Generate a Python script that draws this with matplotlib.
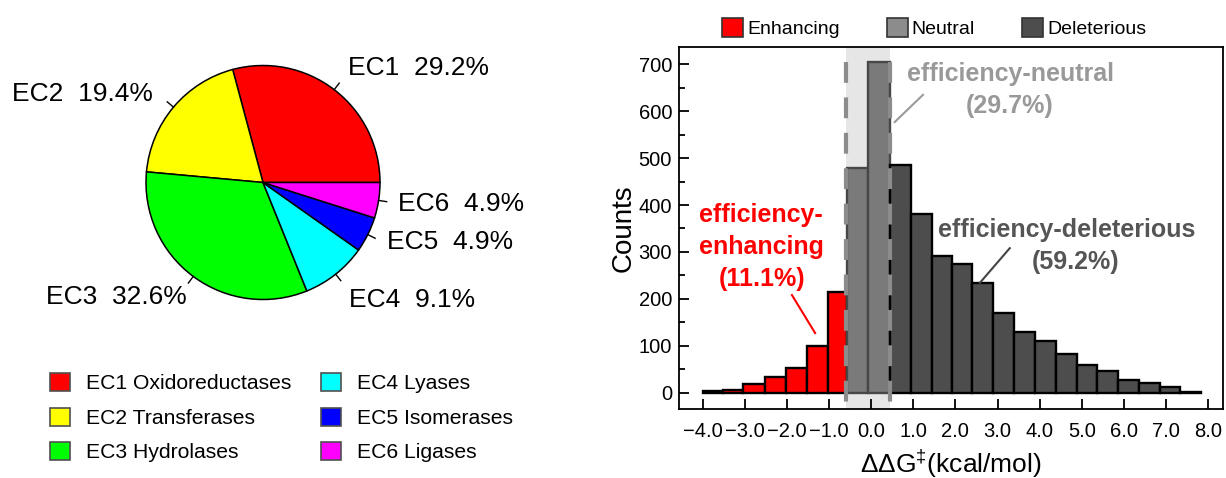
import numpy as np
import matplotlib
matplotlib.use('Agg')
import matplotlib.pyplot as plt
from matplotlib.patches import Patch
from matplotlib.ticker import MultipleLocator

plt.rcParams['font.family'] = ['Liberation Sans', 'DejaVu Sans']
plt.rcParams['mathtext.fontset'] = 'custom'
plt.rcParams['mathtext.rm'] = 'Liberation Sans'
plt.rcParams['mathtext.it'] = 'Liberation Sans:italic'
plt.rcParams['mathtext.bf'] = 'Liberation Sans:bold'

# pie data (EC classes)
ec_labels = ['EC1', 'EC2', 'EC3', 'EC4', 'EC5', 'EC6']
ec_names = ['EC1 Oxidoreductases', 'EC2 Transferases', 'EC3 Hydrolases',
            'EC4 Lyases', 'EC5 Isomerases', 'EC6 Ligases']
ec_pct = [29.2, 19.4, 32.6, 9.1, 4.9, 4.9]
ec_colors = ['#ff0000', '#ffff00', '#00ff00', '#00ffff', '#0000ff', '#ff00ff']

# histogram of ddG (kcal/mol)
bin_edges = [-4.00, -3.52, -3.03, -2.52, -2.02, -1.53, -1.03, -0.58, -0.07,
             0.45, 0.94, 1.44, 1.92, 2.40, 2.90, 3.39, 3.89, 4.39, 4.88,
             5.37, 5.87, 6.36, 6.86, 7.33, 7.83]
counts = [3, 6, 18, 34, 53, 100, 214, 480, 704, 485, 381, 291, 275, 233,
          170, 129, 109, 82, 58, 45, 27, 20, 11, 2]
n_enh = 7
n_neu = 2
groups = ['Enhancing', 'Neutral', 'Deleterious']
group_pct = [11.1, 29.7, 59.2]
band = [-0.60, 0.44]
xtick_vals = [-4, -3, -2, -1, 0, 1, 2, 3, 4, 5, 6, 7, 8]
xtick_labels = ['\u22124.0', '\u22123.0', '\u22122.0', '\u22121.0', '0.0', '1.0', '2.0',
                '3.0', '4.0', '5.0', '6.0', '7.0', '8.0']
ytick_vals = [0, 100, 200, 300, 400, 500, 600, 700]

# pixel offsets of the pie labels from the end of their tick marks
label_off = [(9, 15), (-14, 8), (-2, -14), (8, -19), (12, -4), (11, -2)]

W, H = 1226, 478
fig = plt.figure(figsize=(W / 100, H / 100), dpi=100)

# ---- pie
ax1 = fig.add_axes([146 / W, 1 - 299.5 / H, 234 / W, 234 / H])
wedges, _ = ax1.pie(ec_pct, colors=ec_colors, startangle=0, counterclock=True,
                    wedgeprops=dict(edgecolor='black', linewidth=1.1))
for w in wedges:
    w.set_clip_on(False)
ax1.set_xlim(-1, 1)
ax1.set_ylim(-1, 1)
ax1.set_aspect('equal')

for w, lab, p, off in zip(wedges, ec_labels, ec_pct, label_off):
    mid = np.deg2rad((w.theta1 + w.theta2) / 2)
    c, s = np.cos(mid), np.sin(mid)
    ax1.plot([c, 1.07 * c], [s, 1.07 * s], color='black', lw=1, clip_on=False)
    ax1.annotate(f'{lab}  {p}%', xy=(1.07 * c, 1.07 * s), xytext=off,
                 textcoords='offset pixels', ha='left' if c > 0 else 'right',
                 va='center', fontsize=19, annotation_clip=False)

pie_handles = [Patch(facecolor=col, edgecolor='#505050', linewidth=1.2) for col in ec_colors]
fig.legend(pie_handles, ec_names, loc='upper left', bbox_to_anchor=(50 / W, 1 - 373 / H),
           ncol=2, frameon=False, fontsize=15.2, handlelength=0.95, handleheight=0.95,
           handletextpad=0.75, labelspacing=0.67, columnspacing=1.4,
           borderpad=0, borderaxespad=0)

# ---- histogram
ax2 = fig.add_axes([679 / W, 1 - 409 / H, 544 / W, 362 / H])
lefts = bin_edges[:-1]
widths = np.diff(bin_edges)
n_del = len(counts) - n_enh - n_neu
faces = ['#ff0000'] * n_enh + ['#7a7a7a'] * n_neu + ['#4d4d4d'] * n_del
edges = ['black'] * n_enh + ['#474747'] * n_neu + ['black'] * n_del

ax2.axvspan(band[0], band[1], color='#e6e6e6', lw=0, zorder=0)
ax2.bar(lefts, counts, width=widths, align='edge', color=faces, edgecolor=edges,
        linewidth=1.7, zorder=2)
for xb in band:
    ax2.plot([xb, xb], [705, -40], color='#8c8c8c', lw=3, ls=(0, (5, 3.5)), zorder=3)

ax2.set_xlim(-4.56, 8.35)
ax2.set_ylim(-35, 737)
ax2.set_xticks(xtick_vals)
ax2.set_xticklabels(xtick_labels)
ax2.set_yticks(ytick_vals)
ax2.yaxis.set_minor_locator(MultipleLocator(50))
ax2.tick_params(which='major', direction='in', length=7, width=1.3, labelsize=14.5, pad=5)
ax2.tick_params(which='minor', direction='in', length=4.5, width=1.3)
ax2.tick_params(axis='x', pad=9.5)
for sp in ax2.spines.values():
    sp.set_linewidth(1.3)
ax2.set_ylabel('Counts', fontsize=20, labelpad=1.5)
ax2.set_xlabel('\u0394\u0394G$^{\u2021}$(kcal/mol)', fontsize=19, labelpad=5)

# annotations
ax2.text(3.31, 680, 'efficiency-neutral', color='#999999', fontsize=18, fontweight='bold',
         ha='center', va='center')
ax2.text(3.29, 612, f'({group_pct[1]}%)', color='#999999', fontsize=18, fontweight='bold',
         ha='center', va='center')
ax2.plot([0.56, 1.23], [577, 635], color='#999999', lw=1.5)

ax2.text(-2.61, 378, 'efficiency-', color='#ff0000', fontsize=18, fontweight='bold',
         ha='center', va='center')
ax2.text(-2.61, 310, 'enhancing', color='#ff0000', fontsize=18, fontweight='bold',
         ha='center', va='center')
ax2.text(-2.59, 243, f'({group_pct[0]}%)', color='#ff0000', fontsize=18, fontweight='bold',
         ha='center', va='center')
ax2.plot([-1.88, -1.33], [208, 127], color='#ff0000', lw=1.5)

ax2.text(4.63, 347, 'efficiency-deleterious', color='#555555', fontsize=18, fontweight='bold',
         ha='center', va='center')
ax2.text(4.86, 279, f'({group_pct[2]}%)', color='#555555', fontsize=18, fontweight='bold',
         ha='center', va='center')
ax2.plot([3.29, 2.58], [308, 234], color='#444444', lw=1.5)

hist_handles = [Patch(facecolor='#ff0000', edgecolor='#333333', linewidth=1.2),
                Patch(facecolor='#8c8c8c', edgecolor='#333333', linewidth=1.2),
                Patch(facecolor='#4d4d4d', edgecolor='#333333', linewidth=1.2)]
fig.legend(hist_handles, groups, loc='center left', bbox_to_anchor=(722 / W, 1 - 28 / H),
           ncol=3, frameon=False, fontsize=14, handlelength=1.1, handleheight=1.1,
           handletextpad=0.2, columnspacing=2.4, borderpad=0, borderaxespad=0)

fig.savefig('out.png', dpi=100)
